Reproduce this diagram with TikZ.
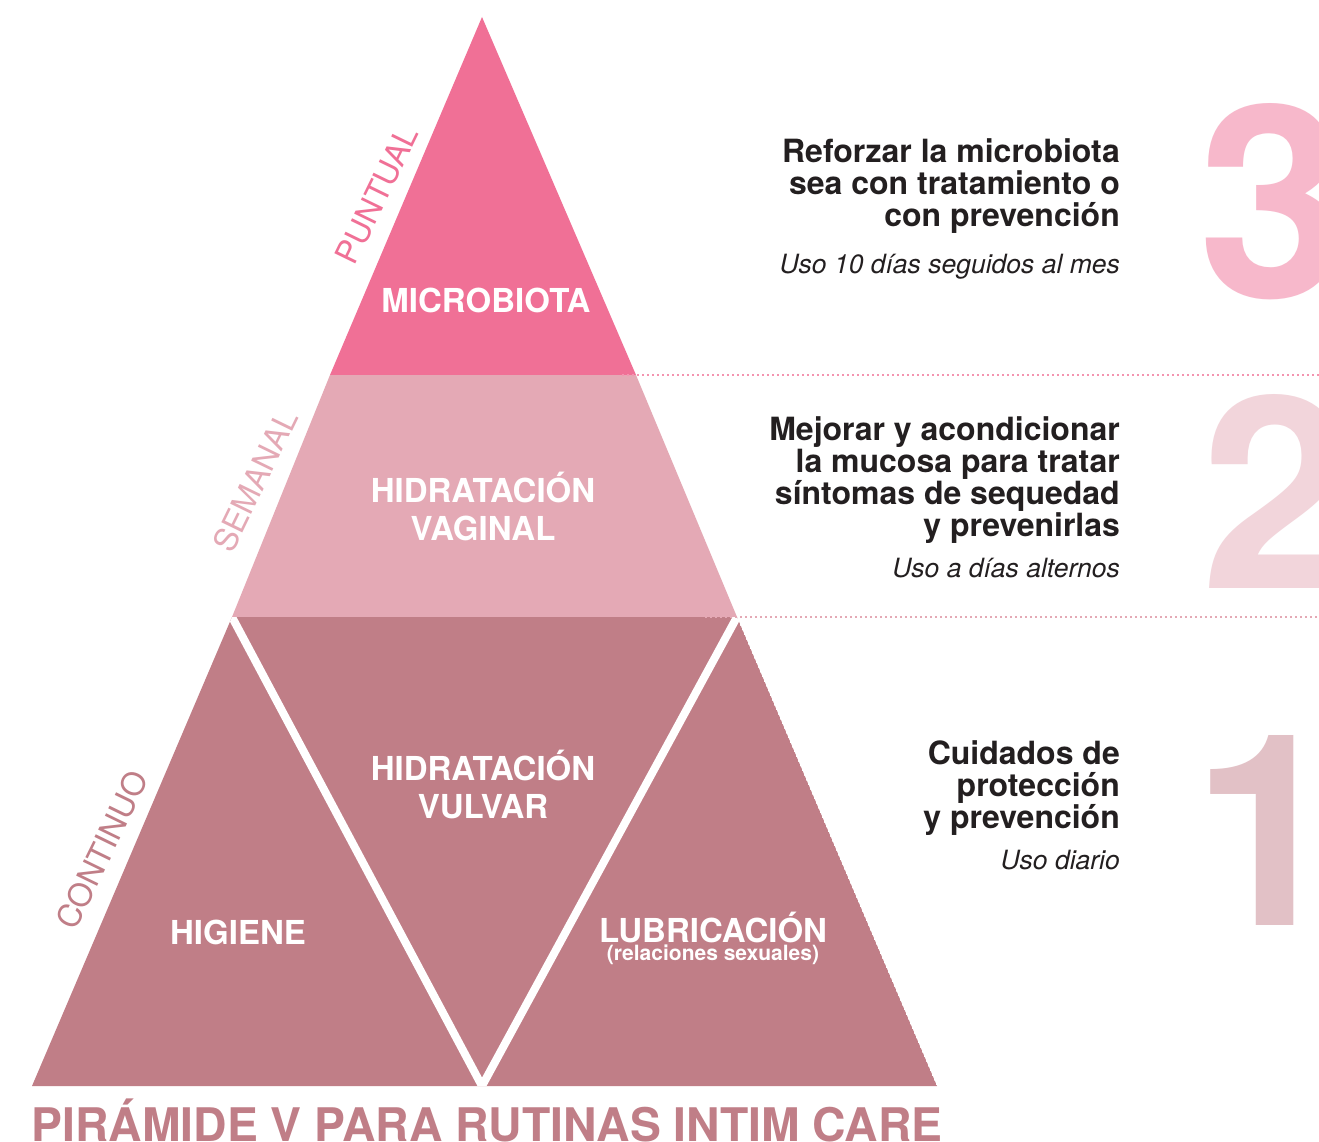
\documentclass[tikz,border=0pt]{standalone}
\usepackage{fontspec}
\setmainfont{TeX Gyre Heros}
\definecolor{cTop}{HTML}{F07096}
\definecolor{cMid}{HTML}{E4A9B5}
\definecolor{cBot}{HTML}{C07E87}
\definecolor{dThree}{HTML}{F7B8CB}
\definecolor{dTwo}{HTML}{F2D5DB}
\definecolor{dOne}{HTML}{E2C1C6}
\definecolor{txtdark}{HTML}{231F20}
\begin{document}
\begin{tikzpicture}[x=1pt,y=-1pt,
  lab/.style={text=white,font=\bfseries\fontsize{33}{38}\selectfont,align=center,inner sep=0},
  sidelab/.style={font=\fontsize{32}{32}\selectfont,inner sep=0,rotate=64},
  head/.style={text=txtdark,font=\bfseries\fontsize{32}{32}\selectfont,align=right,inner sep=0,anchor=north east},
  usage/.style={text=txtdark,font=\itshape\fontsize{26.5}{30}\selectfont,inner sep=0,anchor=base east},
  bignum/.style={font=\bfseries\fontsize{268}{268}\selectfont,inner sep=0,anchor=base west},
  sepline/.style={line width=2pt,dash pattern=on 2pt off 3pt}
]
\useasboundingbox (0,0) rectangle (1319,1142);
\clip (0,0) rectangle (1319,1142);
\fill[white] (0,0) rectangle (1319,1142);

% big numbers
\node[bignum,text=dThree] (n3) at (1198,297) {3};
\node[bignum,text=dTwo] (n2) at (1201,588) {2};
\node[bignum,text=dOne] (n1) at (1192,925) {1};

% pyramid
\coordinate (apex) at (482,17);
\coordinate (tl) at (330,375);
\coordinate (tr) at (636,375);
\coordinate (ml) at (232,617);
\coordinate (mr) at (737,617);
\coordinate (bl) at (32,1086);
\coordinate (br) at (937,1086);
\coordinate (vb) at (482,1086);

\fill[cTop] (apex)--(tl)--(tr)--cycle;
\fill[cMid] (tl)--(ml)--(mr)--(tr)--cycle;
\begin{scope}
  \clip (ml)--(bl)--(br)--(mr)--cycle;
  \fill[cBot] (ml)--(bl)--(br)--(mr)--cycle;
  \draw[white,line width=8pt] (ml)--(vb)--(mr);
\end{scope}

% dotted separators
\coordinate (s3a) at (622,375);
\coordinate (s3b) at (1319,375);
\coordinate (s2a) at (705,617);
\coordinate (s2b) at (1319,617);
\draw[sepline,color=cTop!75] (s3a)--(s3b);
\draw[sepline,color=cMid] (s2a)--(s2b);

% labels inside
\node[lab] (micro) at (486,300) {MICROBIOTA};
\node[lab] (hvag) at (483,506) {HIDRATACIÓN\\VAGINAL};
\node[lab] (hvul) at (483,784) {HIDRATACIÓN\\VULVAR};
\node[lab] (hig) at (238,932) {HIGIENE};
\node[lab] (lub) at (713,927) {LUBRICACIÓN};
\node[lab,font=\bfseries\fontsize{21}{22}\selectfont] (lubsub) at (713,955) {(relaciones sexuales)};

% side labels
\node[sidelab,text=cTop] (puntual) at (377,195) {PUNTUAL};
\node[sidelab,text=cMid] (semanal) at (255,481) {SEMANAL};
\node[sidelab,text=cBot] (continuo) at (102,850) {CONTINUO};

% right texts
\node[head] (h3) at (1120,138) {Reforzar la microbiota\\sea con tratamiento o\\con prevención};
\node[usage] (u3) at (1120,273) {Uso 10 días seguidos al mes};
\node[head] (h2) at (1120,416) {Mejorar y acondicionar\\la mucosa para tratar\\síntomas de sequedad\\y prevenirlas};
\node[usage] (u2) at (1120,577) {Uso a días alternos};
\node[head] (h1) at (1120,740) {Cuidados de\\protección\\y prevención};
\node[usage] (u1) at (1120,869) {Uso diario};

% title
\node[font=\bfseries\fontsize{46.3}{46}\selectfont,text=cBot,anchor=base,inner sep=0] (title) at (487,1141) {PIRÁMIDE V PARA RUTINAS INTIM CARE};
\end{tikzpicture}
\end{document}
